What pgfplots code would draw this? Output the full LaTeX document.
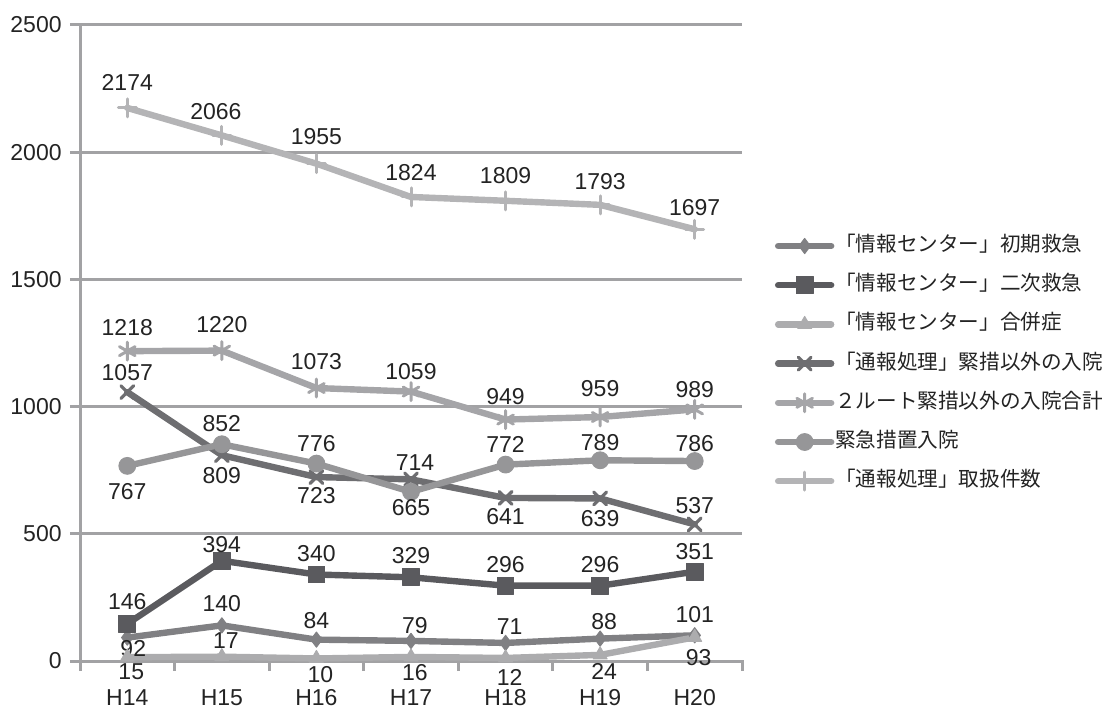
\documentclass[border=0pt]{standalone}
\usepackage{pgfplots}
\pgfplotsset{compat=1.18}
\usepackage{pgfplotstable}
\usepackage{fontspec}
\setmainfont{Liberation Sans}
\newfontfamily\jp{Noto Sans CJK JP}

\definecolor{txt}{RGB}{35,35,35}
\definecolor{gridc}{RGB}{162,162,164}
\definecolor{cA}{RGB}{128,128,131}
\definecolor{cB}{RGB}{90,90,94}
\definecolor{cC}{RGB}{172,172,174}
\definecolor{cD}{RGB}{110,110,113}
\definecolor{cE}{RGB}{165,165,168}
\definecolor{cF}{RGB}{150,150,152}
\definecolor{cG}{RGB}{180,180,182}

% x = category index, y = value, s = label vertical shift (bp), dx = label horizontal shift (bp)
\pgfplotstableread{
x y s dx
0 92 -5.5 3
1 140 11 0
2 84 9.5 0
3 79 7.5 2
4 71 8 2
5 88 8.5 2
6 101 10.5 0
}\tA
\pgfplotstableread{
x y s dx
0 146 11 0
1 394 8 0
2 340 10.5 0
3 329 11 0
4 296 10.5 0
5 296 10.5 0
6 351 10 0
}\tB
\pgfplotstableread{
x y s dx
0 15 -7.5 2
1 17 8 2
2 10 -8 2
3 16 -8 2
4 12 -10 2
5 24 -8.5 2
6 93 -10 2
}\tC
\pgfplotstableread{
x y s dx
0 1057 10 0
1 809 -10 0
2 723 -9.5 0
3 714 8.5 2
4 641 -9.5 0
5 639 -10 0
6 537 9.5 0
}\tD
\pgfplotstableread{
x y s dx
0 1218 12 0
1 1220 13 0
2 1073 13 0
3 1059 10 0
4 949 11.5 0
5 959 14 0
6 989 10 0
}\tE
\pgfplotstableread{
x y s dx
0 767 -13 0
1 852 10.5 0
2 776 10 0
3 665 -8 0
4 772 10 0
5 789 9 0
6 786 8.5 0
}\tF
\pgfplotstableread{
x y s dx
0 2174 12.5 0
1 2066 12 -3
2 1955 13.5 0
3 1824 12 0
4 1809 12.5 0
5 1793 11.5 0
6 1697 11 0
}\tG

\newlength{\lsh}
\newlength{\ldx}
\pgfplotsset{
  lbl/.style={
    nodes near coords={\pgfplotspointmeta},
    point meta=explicit symbolic,
    visualization depends on={\thisrow{s} \as \sh},
    visualization depends on={\thisrow{dx} \as \dxx},
    every node near coord/.append style={anchor=center, inner sep=0pt,
      /utils/exec={\global\lsh=\sh bp\global\ldx=\dxx bp},
      yshift=\lsh, xshift=\ldx, text=txt,
      font=\fontsize{11.5bp}{13bp}\selectfont},
  },
  ser/.style n args={2}{color=#1, line width=3.2bp, line join=round, line cap=round, #2,
    legend image code/.code={%
      \draw[color=#1, line width=3.2bp, mark repeat=2, mark phase=2, #2]
        plot coordinates {(0bp,0bp) (13.25bp,0bp) (26.5bp,0bp)};}},
}

\begin{document}
\begin{tikzpicture}
\path[use as bounding box] (0,0) rectangle (553bp,354.5bp);
\begin{axis}[
  at={(40bp,24bp)}, anchor=south west,
  scale only axis, width=331bp, height=318bp,
  xmin=-0.5, xmax=6.5, ymin=0, ymax=2500,
  clip=false,
  xtick={0,...,6},
  xticklabels={H14,H15,H16,H17,H18,H19,H20},
  minor xtick={-0.5,0.5,...,6.5},
  ytick={0,500,...,2500},
  axis lines*=left,
  axis line style={draw=gridc, line width=1.5bp, line cap=rect},
  ymajorgrids,
  grid style={draw=gridc, line width=1.5bp},
  tick align=outside,
  major tick length=5bp, minor tick length=5bp,
  tick style={draw=gridc, line width=1.5bp},
  major x tick style={draw=none},
  /pgf/number format/.cd, 1000 sep={}, assume math mode=true, /pgfplots/.cd,
  ticklabel style={text=txt, font=\fontsize{11.5bp}{13bp}\selectfont},
  xticklabel style={anchor=center, yshift=-13.5bp},
  yticklabel style={anchor=east, inner sep=0pt, xshift=-4bp},
  legend style={at={(1.0498,0.669)}, anchor=north west, draw=none, fill=none,
    inner sep=0pt, outer sep=0pt, row sep=9.1bp, column sep=0.5bp,
    font=\jp\fontsize{10.3bp}{12bp}\selectfont, text=txt,
    nodes={inner sep=0pt, text height=8bp, text depth=2.5bp}},
  legend cell align=left,
]
\addplot[ser={cA}{mark=diamond*, mark size=3.8bp, mark options={solid, line width=0.5bp, fill=cA}}, lbl]
  table[x=x, y=y, meta=y]{\tA};
\addlegendentry{「情報センター」初期救急}
\addplot[ser={cB}{mark=square*, mark size=4.2bp, mark options={solid, line width=0.5bp, fill=cB}}, lbl]
  table[x=x, y=y, meta=y]{\tB};
\addlegendentry{「情報センター」二次救急}
\addplot[ser={cC}{mark=triangle*, mark size=4bp, mark options={solid, line width=0.5bp, fill=cC}}, lbl]
  table[x=x, y=y, meta=y]{\tC};
\addlegendentry{「情報センター」合併症}
\addplot[ser={cD}{mark=x, mark size=4.5bp, mark options={solid, line width=1.6bp}}, lbl]
  table[x=x, y=y, meta=y]{\tD};
\addlegendentry{「通報処理」緊措以外の入院}
\addplot[ser={cE}{mark=asterisk, mark size=4.5bp, mark options={solid, line width=1.5bp}}, lbl]
  table[x=x, y=y, meta=y]{\tE};
\addlegendentry{２ルート緊措以外の入院合計}
\addplot[ser={cF}{mark=*, mark size=4.2bp, mark options={solid, line width=0.5bp, fill=cF}}, lbl]
  table[x=x, y=y, meta=y]{\tF};
\addlegendentry{緊急措置入院}
\addplot[ser={cG}{mark=+, mark size=4.5bp, mark options={solid, line width=1.5bp}}, lbl]
  table[x=x, y=y, meta=y]{\tG};
\addlegendentry{「通報処理」取扱件数}
\end{axis}
\end{tikzpicture}
\end{document}
